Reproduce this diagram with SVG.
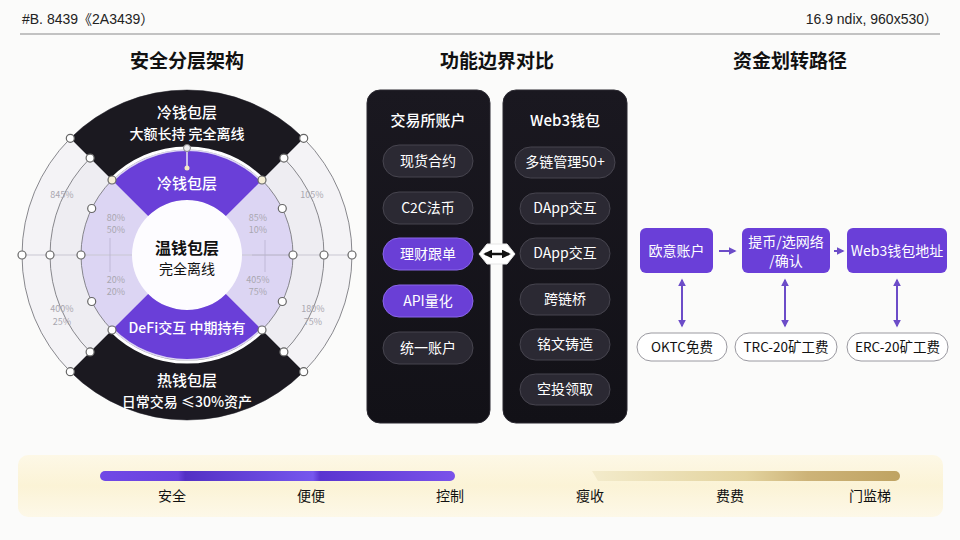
<svg xmlns="http://www.w3.org/2000/svg" width="960" height="540" viewBox="0 0 960 540">
<defs>
<style>
text{font-family:"Noto Sans CJK SC","Noto Sans",sans-serif;}
.t{font-size:19px;font-weight:700;fill:#111;text-anchor:middle;}
.w{fill:#fff;text-anchor:middle;font-size:14px;}
.wb{fill:#fff;text-anchor:middle;font-size:15px;font-weight:500;}
.ws{fill:#fff;text-anchor:middle;font-size:14px;font-weight:500;}
.pc{fill:#a9a7b0;font-size:9px;text-anchor:middle;}
.nd{fill:#fff;stroke:#666;stroke-width:1.2;}
.ring{stroke:#7a7a80;stroke-width:0.9;}
.pill{fill:#2b2933;stroke:#47454f;stroke-width:1;}
.pillp{fill:#6a3fd6;stroke:#8a66ea;stroke-width:1;}
.box{fill:#6a3fd8;}
.wp{fill:#fff;stroke:#9a99a0;stroke-width:1;}
.bk{fill:#111;text-anchor:middle;font-size:13.5px;}
.lbl{fill:#111;text-anchor:middle;font-size:14px;}
.va{stroke:#6c4cc8;stroke-width:2;fill:none;marker-start:url(#ahp);marker-end:url(#ahp);}
</style>
<marker id="ahp" viewBox="0 0 10 10" refX="8" refY="5" markerWidth="4" markerHeight="4" orient="auto-start-reverse"><path d="M0,0 L10,5 L0,10 Z" fill="#6c4cc8"/></marker>
<marker id="ahk" viewBox="0 0 10 10" refX="8" refY="5" markerWidth="3.5" markerHeight="3.5" orient="auto-start-reverse"><path d="M0,0 L10,5 L0,10 Z" fill="#111"/></marker>
<linearGradient id="pbar" x1="0" x2="1" y1="0" y2="0">
<stop offset="0" stop-color="#7048e6"/><stop offset="0.22" stop-color="#6a42de"/><stop offset="0.24" stop-color="#5330c4"/><stop offset="0.6" stop-color="#7657ee"/><stop offset="0.62" stop-color="#5a34d0"/><stop offset="1" stop-color="#7a52ea"/>
</linearGradient>
<linearGradient id="gbar" x1="0" x2="1" y1="0" y2="0">
<stop offset="0" stop-color="#f3ebcb"/><stop offset="0.5" stop-color="#e3d39e"/><stop offset="0.7" stop-color="#cdb378"/><stop offset="1" stop-color="#bfa362"/>
</linearGradient>
<linearGradient id="panel" x1="0" x2="0" y1="0" y2="1">
<stop offset="0" stop-color="#1a1820"/><stop offset="1" stop-color="#121117"/>
</linearGradient>
<linearGradient id="band" x1="0" x2="0" y1="0" y2="1">
<stop offset="0" stop-color="#fdf8e6"/><stop offset="0.5" stop-color="#fbf3d6"/><stop offset="1" stop-color="#fdf8e8"/>
</linearGradient>
</defs>
<rect width="960" height="540" fill="#fbfbfa"/>

<g id="header">
<text x="22" y="24" font-size="14" fill="#222" style="font-family:'Liberation Sans','Noto Sans CJK SC',sans-serif">#B. 8439《2A3439）</text>
<text x="938" y="24" font-size="14" fill="#222" text-anchor="end" style="font-family:'Liberation Sans','Noto Sans CJK SC',sans-serif">16.9 ndix, 960x530）</text>
<line x1="20" y1="34" x2="940" y2="34" stroke="#8a8a8a" stroke-width="1.2"/>
</g>

<g id="titles">
<text class="t" x="187" y="68">安全分层架构</text>
<text class="t" x="497" y="68">功能边界对比</text>
<text class="t" x="790" y="68">资金划转路径</text>
</g>

<g id="layers">
<circle class="ring" cx="187" cy="255" r="165" fill="#f4f3f6"/>
<circle class="ring" cx="187" cy="255" r="137" fill="#eeedf2"/>
<circle class="ring" cx="187" cy="255" r="106" fill="#dcd5f3"/>
<line x1="22" y1="255" x2="352" y2="255" stroke="#c9c7d2" stroke-width="1"/>
<line x1="110" y1="238" x2="110" y2="272" stroke="#b9b3cf" stroke-width="0.8"/>
<line x1="265" y1="240" x2="265" y2="272" stroke="#b9b3cf" stroke-width="0.8"/>
<line x1="252" y1="255" x2="292" y2="255" stroke="#b9b3cf" stroke-width="0.8"/>
<circle cx="187" cy="255" r="55" fill="#fdfcff"/>
<path id="cold-outer" d="M70.3,138.3 A165,165 0 0 1 303.7,138.3 L262.7,179.3 A107,107 0 0 0 111.3,179.3 Z" fill="#1b1920"/>
<path id="cold-inner" d="M113.5,181.5 A104,104 0 0 1 260.5,181.5 L225.9,216.1 A55,55 0 0 0 148.1,216.1 Z" fill="#6a3fd8"/>
<path id="hot-outer" d="M70.3,371.7 A165,165 0 0 0 303.7,371.7 L262.7,330.7 A107,107 0 0 1 111.3,330.7 Z" fill="#1b1920"/>
<path id="hot-inner" d="M113.5,328.5 A104,104 0 0 0 260.5,328.5 L225.9,293.9 A55,55 0 0 1 148.1,293.9 Z" fill="#6a3fd8"/>
<path d="M111.3,179.3 A107,107 0 0 1 262.7,179.3" fill="none" stroke="#fff" stroke-width="3"/>
<path d="M111.3,330.7 A107,107 0 0 0 262.7,330.7" fill="none" stroke="#fff" stroke-width="3"/>
<line x1="187" y1="148" x2="187" y2="168" stroke="#e9e4f5" stroke-width="1.5"/>
<circle cx="187" cy="148" r="3.5" fill="#eeeef2" stroke="#888" stroke-width="1"/>
<circle cx="187" cy="168" r="2.5" fill="#f3e9c4"/>
<g class="nd">
<circle cx="22" cy="255" r="4"/><circle cx="50" cy="255" r="4"/><circle cx="81" cy="255" r="4"/>
<circle cx="293" cy="255" r="4"/><circle cx="324" cy="255" r="4"/><circle cx="352" cy="255" r="4"/>
<circle cx="70.3" cy="138.3" r="4"/><circle cx="303.7" cy="138.3" r="4"/><circle cx="70.3" cy="371.7" r="4"/><circle cx="303.7" cy="371.7" r="4"/>
<circle cx="90.1" cy="158.1" r="4"/><circle cx="283.9" cy="158.1" r="4"/><circle cx="90.1" cy="351.9" r="4"/><circle cx="283.9" cy="351.9" r="4"/>
<circle cx="112" cy="180" r="4" fill="#f6efd6"/><circle cx="262" cy="180" r="4" fill="#f6efd6"/><circle cx="112" cy="330" r="4"/><circle cx="262" cy="330" r="4"/>
<circle cx="91.7" cy="208.5" r="4"/><circle cx="282.3" cy="208.5" r="4"/><circle cx="91.7" cy="301.5" r="4"/><circle cx="282.3" cy="301.5" r="4"/>
</g>
<text class="pc" x="62" y="198">845%</text>
<text class="pc" x="116" y="221">80%</text><text class="pc" x="116" y="233">50%</text>
<text class="pc" x="116" y="283">20%</text><text class="pc" x="116" y="295">20%</text>
<text class="pc" x="62" y="312">400%</text><text class="pc" x="62" y="325">25%</text>
<text class="pc" x="258" y="221">85%</text><text class="pc" x="258" y="233">10%</text>
<text class="pc" x="312" y="198">105%</text>
<text class="pc" x="258" y="283">405%</text><text class="pc" x="258" y="295">75%</text>
<text class="pc" x="313" y="312">180%</text><text class="pc" x="313" y="325">75%</text>
<text class="wb" x="187" y="118">冷钱包层</text>
<text class="ws" x="187" y="139">大额长持 完全离线</text>
<text class="wb" x="187" y="189">冷钱包层</text>
<text x="187" y="254" font-size="16" font-weight="700" fill="#111" text-anchor="middle">温钱包层</text>
<text x="187" y="274" font-size="14" fill="#111" text-anchor="middle">完全离线</text>
<text class="ws" x="187" y="333">DeFi交互 中期持有</text>
<text class="wb" x="187" y="386">热钱包层</text>
<text class="ws" x="187" y="407">日常交易 ≤30%资产</text>
</g>

<g id="exchange-panel">
<rect x="367" y="90" width="123" height="333" rx="13" fill="url(#panel)" stroke="#2a2830"/>
<text class="wb" x="428" y="126">交易所账户</text>
<rect class="pill" x="383" y="145" width="90" height="32" rx="16"/><text class="w" x="428" y="166">现货合约</text>
<rect class="pill" x="383" y="192" width="90" height="32" rx="16"/><text class="w" x="428" y="213">C2C法币</text>
<rect class="pillp" x="383" y="238" width="90" height="32" rx="16"/><text class="w" x="428" y="259">理财跟单</text>
<rect class="pillp" x="383" y="285" width="90" height="32" rx="16"/><text class="w" x="428" y="306">API量化</text>
<rect class="pill" x="383" y="332" width="90" height="32" rx="16"/><text class="w" x="428" y="353">统一账户</text>
</g>

<g id="web3-panel">
<rect x="503" y="90" width="124" height="333" rx="13" fill="url(#panel)" stroke="#2a2830"/>
<text class="wb" x="565" y="126">Web3钱包</text>
<rect class="pill" x="515" y="147" width="100" height="31" rx="15.5"/><text class="w" x="565" y="167">多链管理50+</text>
<rect class="pill" x="520" y="193" width="90" height="31" rx="15.5"/><text class="w" x="565" y="213">DApp交互</text>
<rect class="pill" x="520" y="238" width="90" height="31" rx="15.5"/><text class="w" x="565" y="258">DApp交互</text>
<rect class="pill" x="520" y="284" width="90" height="31" rx="15.5"/><text class="w" x="565" y="304">跨链桥</text>
<rect class="pill" x="520" y="329" width="90" height="31" rx="15.5"/><text class="w" x="565" y="349">铭文铸造</text>
<rect class="pill" x="520" y="374" width="90" height="31" rx="15.5"/><text class="w" x="565" y="394">空投领取</text>
</g>

<g id="path-boxes">
<g id="okx"><rect class="box" x="640" y="228" width="73" height="45" rx="6"/><text class="w" x="676.5" y="256">欧意账户</text></g>
<g id="withdraw"><rect class="box" x="742" y="228" width="88" height="45" rx="6"/><text class="w" x="786" y="247">提币/选网络</text><text class="w" x="786" y="266">/确认</text></g>
<g id="web3addr"><rect class="box" x="847" y="228" width="100" height="45" rx="6"/><text class="w" x="897" y="256">Web3钱包地址</text></g>
<g id="oktc"><rect class="wp" x="637" y="333" width="90" height="28" rx="14"/><text class="bk" x="682" y="352">OKTC免费</text></g>
<g id="trc"><rect class="wp" x="735" y="333" width="102" height="28" rx="14"/><text class="bk" x="786" y="352">TRC-20矿工费</text></g>
<g id="erc"><rect class="wp" x="847" y="333" width="101" height="28" rx="14"/><text class="bk" x="897.5" y="352">ERC-20矿工费</text></g>
</g>

<g id="connectors">
<path d="M479,254 L487,244 L507,244 L515,254 L507,264 L487,264 Z" fill="#fff" stroke="#e6e6e6"/>
<line x1="485" y1="254" x2="509" y2="254" stroke="#111" stroke-width="2.5" marker-start="url(#ahk)" marker-end="url(#ahk)"/>
<line x1="719" y1="251" x2="735" y2="251" stroke="#6c4cc8" stroke-width="2" marker-end="url(#ahp)"/>
<line x1="834" y1="251" x2="843" y2="251" stroke="#6c4cc8" stroke-width="2" marker-end="url(#ahp)"/>
<line class="va" x1="682" y1="280" x2="682" y2="326"/>
<line class="va" x1="785" y1="280" x2="785" y2="326"/>
<line class="va" x1="897" y1="280" x2="897" y2="326"/>
</g>

<g id="bottom-band">
<rect x="18" y="455" width="925" height="62" rx="10" fill="url(#band)"/>
<rect x="100" y="471" width="355" height="10" rx="5" fill="url(#pbar)"/>
<path d="M592,471 L895,471 A5,5 0 0 1 895,481 L598,481 Z" fill="url(#gbar)"/>
<text class="lbl" x="172" y="501">安全</text>
<text class="lbl" x="311" y="501">便便</text>
<text class="lbl" x="450" y="501">控制</text>
<text class="lbl" x="590" y="501">瘦收</text>
<text class="lbl" x="730" y="501">费费</text>
<text class="lbl" x="870" y="501">门监梯</text>
</g>
</svg>
